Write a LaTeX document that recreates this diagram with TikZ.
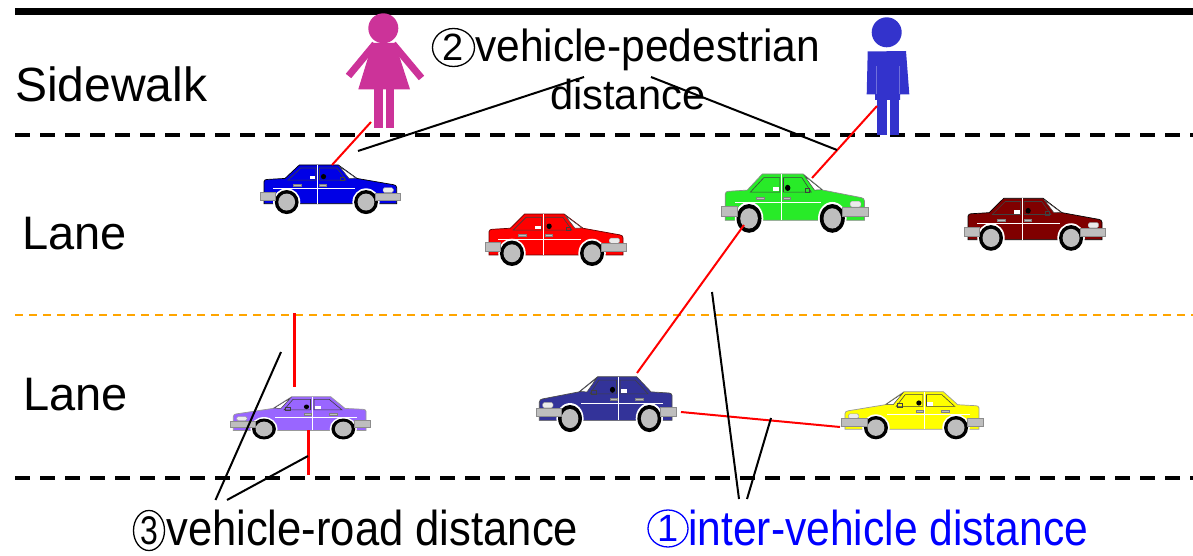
\documentclass[tikz,border=0pt]{standalone}
\usepackage{fontspec}
\usepackage{graphicx}
\usetikzlibrary{shapes.geometric}
\setmainfont{Liberation Sans}

\definecolor{pedpink}{RGB}{204,51,153}
\definecolor{pedblue}{RGB}{51,51,204}
\definecolor{laneorange}{RGB}{255,165,0}
\definecolor{carblue}{RGB}{0,0,230}
\definecolor{carred}{RGB}{255,0,0}
\definecolor{cargreen}{RGB}{40,235,40}
\definecolor{cardarkred}{RGB}{128,0,0}
\definecolor{carpurple}{RGB}{153,102,255}
\definecolor{carnavy}{RGB}{51,51,153}
\definecolor{caryellow}{RGB}{255,255,0}
\definecolor{bumpergray}{RGB}{190,190,190}
\definecolor{labelblue}{RGB}{0,0,255}

\tikzset{
  kerb/.style={line width=7pt},
  laneedge/.style={line width=4pt, dash pattern=on 15pt off 10pt},
  lanemid/.style={draw=laneorange, line width=1.6pt, dash pattern=on 8pt off 6pt},
  redlink/.style={draw=red, line width=2pt},
  redgap/.style={draw=red, line width=3pt},
  leader/.style={draw=black, line width=2pt},
  txt/.style={inner sep=0pt, anchor=base west},
  circnum/.style={draw, ellipse, inner sep=0pt, line width=1.3pt},
  bumper/.style={fill=bumpergray, draw=black!45, line width=0.5pt},
  trim/.style={draw=white, line width=0.8pt},
  frame/.style={draw=black!75, line width=0.6pt},
}

% side view of a sedan, front on the right in local coordinates
% #1,#2 top-left corner, #3 x scale, #4 y scale, #5 body colour, #6 outline colour
\newcommand\sedan[6]{%
\begin{scope}[shift={(#1,#2)},xscale=#3,yscale=#4]
  \filldraw[fill=#5, draw=#6, line width=0.7pt]
    (4,38.3) -- (4,16.5) to[out=90,in=180] (7,14.3) -- (25,13.3) -- (39.3,0)
    -- (78.3,0) -- (97,13.3) -- (133.5,19.5) to[out=0,in=90] (136.7,22.5)
    -- (136.7,38.3) -- cycle;
  % windows
  \draw[frame] (28,15) -- (40.8,3) -- (56,3) -- (56,15) -- cycle;
  \draw[frame] (59.5,3) -- (77,3) -- (86,15) -- (59.5,15) -- cycle;
  \filldraw[fill=white, draw=black!75, line width=0.5pt] (79.5,1.5) -- (96,13) -- (89,13.3) -- cycle;
  % seat, driver and mirror
  \fill[white] (49.5,11) rectangle (55,14.3);
  \fill[black] (63.5,11.5) circle (2.6);
  \draw[frame] (80,12) rectangle (84.5,15.5);
  % body trim and door line
  \draw[trim] (13.3,23.3) -- (95,23.3);
  \draw[trim] (57.7,0) -- (57.7,38.3);
  % door handles
  \filldraw[fill=bumpergray, draw=black!50, line width=0.3pt] (33.3,19) rectangle (41,21);
  \filldraw[fill=bumpergray, draw=black!50, line width=0.3pt] (59.3,19) rectangle (66,21);
  % headlight
  \filldraw[fill=white!92!black, draw=black!40, line width=0.4pt, rounded corners=1.5pt] (123,22.5) rectangle (133.3,27.3);
  % wheels
  \foreach \wx in {26.7,106}{
    \fill[white] (\wx,36.7) circle (13.6);
    \fill[black] (\wx,36.7) circle (11.9);
    \fill[bumpergray] (\wx,36.7) circle (8.4);
  }
  % bumpers
  \filldraw[bumper] (0,26.8) rectangle (15.5,35);
  \filldraw[bumper] (115,27.5) rectangle (140,35);
\end{scope}}

\begin{document}
\begin{tikzpicture}[x=1pt,y=-1pt]
\useasboundingbox (0,0) rectangle (1193,556);

% road markings
\draw[kerb] (15,11.5) -- (1193,11.5);
\draw[laneedge] (15,135) -- (1193,135);
\draw[lanemid] (15,315) -- (1193,315);
\draw[laneedge] (15,478) -- (1193,478);

% zone names
\node[txt] (sidewalk) at (15,102) {\fontsize{48}{58}\selectfont Sidewalk};
\node[txt] (laneA) at (22,249) {\fontsize{47}{56}\selectfont Lane};
\node[txt] (laneB) at (23,410) {\fontsize{47}{56}\selectfont Lane};

% pedestrian (dress)
\fill[pedpink] (383.3,28.3) circle (15);
\fill[pedpink] (372.5,43) -- (395,43) -- (410,89.3) -- (358.3,89.3) -- cycle;
\draw[pedpink, line width=7pt] (375,44) -- (348.5,76);
\draw[pedpink, line width=7pt] (393,44) -- (421.5,78);
\fill[pedpink] (374,88) rectangle (383,128);
\fill[pedpink] (386,88) rectangle (394.3,128);

% pedestrian (trousers)
\fill[pedblue] (886.7,32.3) circle (15);
\fill[pedblue] (867.7,51.5) -- (906,51) -- (909.3,94.3) -- (900,94.3) -- (900,100)
  -- (875,100) -- (875,94.3) -- (866.7,94.3) -- cycle;
\draw[pedblue!70!white, line width=0.6pt] (876,66) -- (876,94) (899,66) -- (899,94);
\fill[pedblue] (876.7,99) rectangle (886.7,135);
\fill[pedblue] (890,99) rectangle (899,135);

% cars
\sedan{260}{165}{1.0}{1.01}{carblue}{black}
\sedan{485}{214}{1.01}{1.07}{carred}{black!60!red}
\sedan{721}{174}{1.05}{1.21}{cargreen}{black!45}
\sedan{964}{198.3}{1.01}{1.08}{cardarkred}{black}
\sedan{370}{396.7}{-1.0}{0.88}{carpurple}{black!40}
\sedan{676}{376.7}{-1.0}{1.14}{carnavy}{black!70}
\sedan{983}{391.7}{-1.01}{0.98}{caryellow}{black!40}

% connector end points
\coordinate (girlhand) at (371,122);
\coordinate (bluecarroof) at (332,165);
\coordinate (manleg) at (877,106);
\coordinate (greenroof) at (812,178);
\coordinate (greenwheel) at (744,225);
\coordinate (navyroof) at (637,373);
\coordinate (navyfront) at (681,412);
\coordinate (yellowrear) at (840,427);
\coordinate (purplelaneA) at (294.3,313);
\coordinate (purpleroof) at (294.3,387);
\coordinate (purplebottom) at (308.3,430);
\coordinate (purpleedge) at (308.3,475);

% measured distances
\draw[redlink] (girlhand) -- (bluecarroof);
\draw[redlink] (manleg) -- (greenroof);
\draw[redlink] (greenwheel) -- (navyroof);
\draw[redlink] (navyfront) -- (yellowrear);
\draw[redgap] (purplelaneA) -- (purpleroof);
\draw[redgap] (purplebottom) -- (purpleedge);

% labels with circled numerals
\node[circnum, minimum width=42pt, minimum height=38pt] (pednum) at (453.5,47.5)
  {\fontsize{38}{40}\selectfont 2};
\node[txt] (pedlabel) at (475,62)
  {\resizebox{345pt}{\height}{\fontsize{45}{54}\selectfont vehicle-pedestrian}};
\node[txt] (pedlabelb) at (550,110)
  {\resizebox{155pt}{\height}{\fontsize{42}{50}\selectfont distance}};
\node[circnum, minimum width=31pt, minimum height=40pt] (roadnum) at (149,530.5)
  {\fontsize{40}{44}\selectfont\scalebox{0.8}[1]{3}};
\node[txt] (roadlabel) at (166,545)
  {\resizebox{412pt}{\height}{\fontsize{49}{58}\selectfont vehicle-road distance}};
\node[circnum, draw=labelblue, text=labelblue, minimum width=40pt, minimum height=37pt] (internum) at (668,528.5)
  {\fontsize{38}{42}\selectfont 1};
\node[txt, text=labelblue] (interlabel) at (688,545)
  {\resizebox{400pt}{\height}{\fontsize{49}{58}\selectfont inter-vehicle distance}};

% leader lines
\coordinate (pedleadA) at (584,77);
\coordinate (pedleadB) at (651,77);
\coordinate (pedendA) at (358,151);
\coordinate (pedendB) at (837,150);
\coordinate (roadleadA) at (215.5,500);
\coordinate (roadleadB) at (227,500);
\coordinate (roadendA) at (281,352);
\coordinate (roadendB) at (308,456);
\coordinate (interleadA) at (739,499);
\coordinate (interleadB) at (747,499);
\coordinate (interendA) at (712,292);
\coordinate (interendB) at (771,418);
\draw[leader] (pedleadA) -- (pedendA);
\draw[leader] (pedleadB) -- (pedendB);
\draw[leader] (roadleadA) -- (roadendA);
\draw[leader] (roadleadB) -- (roadendB);
\draw[leader] (interleadA) -- (interendA);
\draw[leader] (interleadB) -- (interendB);
\end{tikzpicture}
\end{document}
